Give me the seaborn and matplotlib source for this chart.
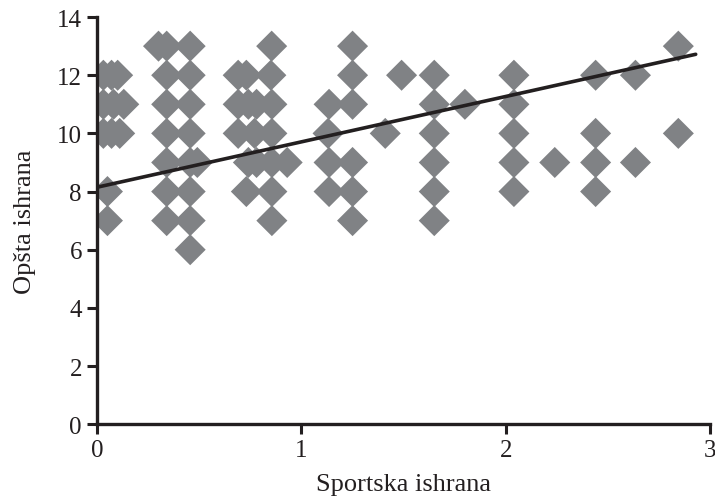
import matplotlib.pyplot as plt
import seaborn as sns
import pandas as pd

# values, grouped by y row
sportska = [0.30, 0.34, 0.455, 0.854, 1.25, 2.845,
            0.03, 0.07, 0.10, 0.34, 0.455, 0.69, 0.73, 0.85, 1.25, 1.49, 1.65, 2.04, 2.44, 2.635,
            0.03, 0.08, 0.13, 0.34, 0.455, 0.69, 0.74, 0.78, 0.855, 1.135, 1.25, 1.65, 1.80, 2.04,
            0.03, 0.07, 0.11, 0.34, 0.455, 0.69, 0.77, 0.855, 1.13, 1.41, 1.65, 2.04, 2.44, 2.845,
            0.34, 0.455, 0.49, 0.74, 0.78, 0.855, 0.93, 1.135, 1.25, 1.65, 2.04, 2.24, 2.44, 2.635,
            0.05, 0.34, 0.455, 0.73, 0.855, 1.135, 1.25, 1.65, 2.04, 2.44,
            0.05, 0.34, 0.455, 0.855, 1.25, 1.65,
            0.455]
opsta = [13] * 6 + [12] * 14 + [11] * 14 + [10] * 14 + [9] * 14 + [8] * 10 + [7] * 6 + [6]

# trend line as drawn in the source (start and end)
trend_x = [0.0, 2.93]
trend_y = [8.15, 12.72]

df = pd.DataFrame({"Sportska ishrana": sportska, "Opšta ishrana": opsta})
trend = pd.DataFrame({"x": trend_x, "y": trend_y})

sns.set_style("ticks")
plt.rcParams["font.family"] = ["Liberation Serif", "DejaVu Serif"]

fig = plt.figure(figsize=(7.15, 5.02), dpi=100)
ax = fig.add_axes([0.136, 0.153, 0.857, 0.811])

sns.scatterplot(data=df, x="Sportska ishrana", y="Opšta ishrana", marker="D",
                s=250, color="#808285", edgecolor="none", ax=ax, zorder=2)
sns.lineplot(data=trend, x="x", y="y", color="#231f20", lw=2.6, ax=ax, zorder=3)

ax.set_xlim(0, 3)
ax.set_ylim(0, 14)
ax.set_xticks([0, 1, 2, 3])
ax.set_yticks(range(0, 15, 2))
ax.set_xlabel("Sportska ishrana", fontsize=19, labelpad=8, color="#231f20")
ax.set_ylabel("Opšta ishrana", fontsize=19, labelpad=15, color="#231f20")
ax.tick_params(labelsize=18, width=2.2, length=7, color="#231f20", labelcolor="#231f20", pad=4)
for side in ["left", "bottom"]:
    ax.spines[side].set_linewidth(2.4)
    ax.spines[side].set_color("#231f20")
sns.despine(ax=ax)

fig.savefig("out.png", dpi=100)
